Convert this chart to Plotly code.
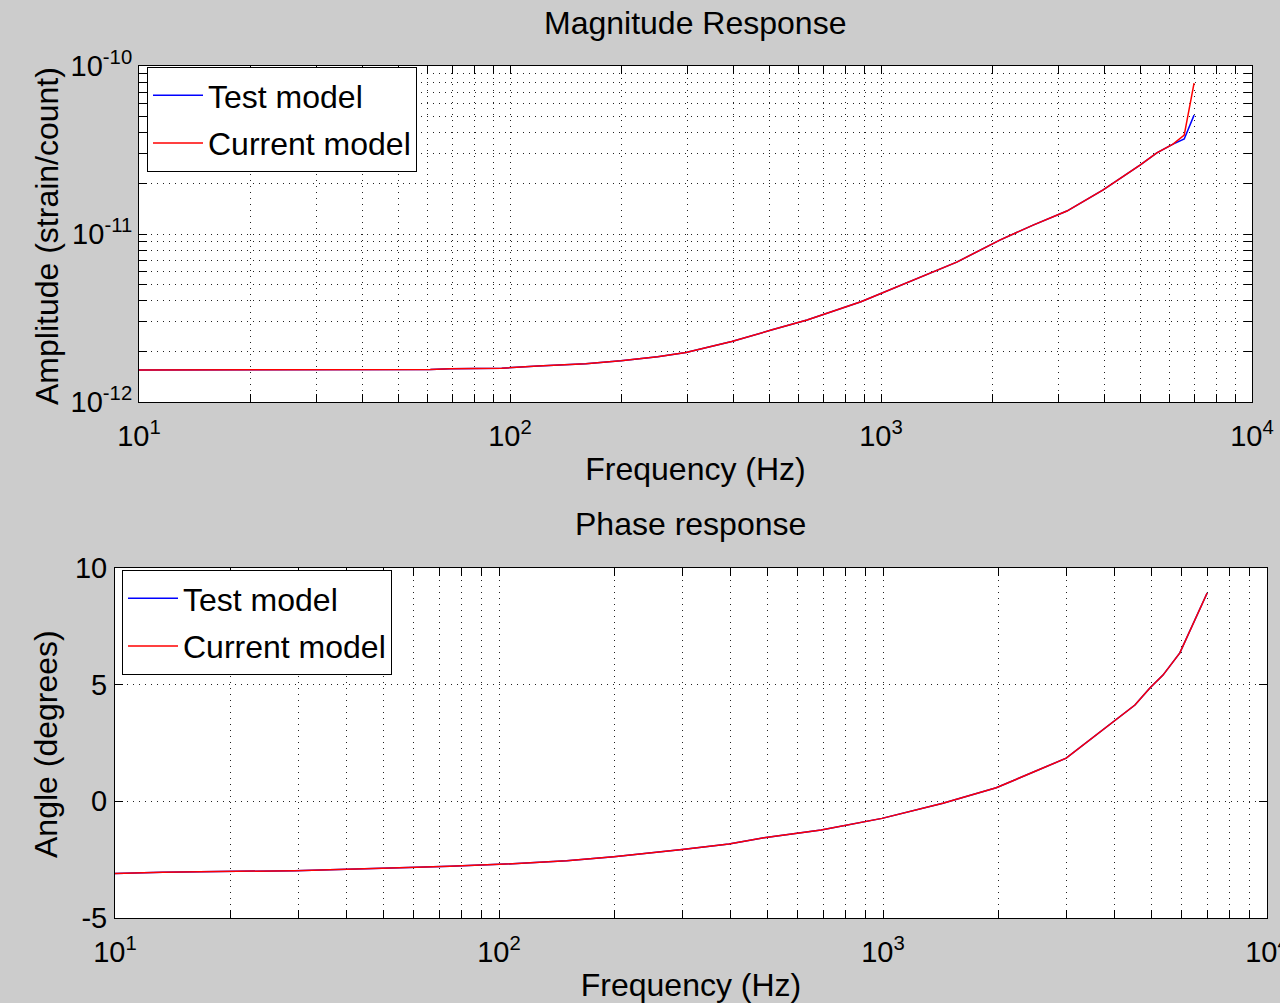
import plotly.graph_objects as go

# ---------------- data ----------------
mag_freq = [10, 20, 40, 61, 69, 95, 119, 160, 199, 250, 298, 396, 506, 632, 883,
            1228, 1600, 2090, 2570, 3170, 3970, 4990, 5540, 6124, 6566, 6980]
mag_current = [1.55e-12, 1.55e-12, 1.55e-12, 1.56e-12, 1.58e-12, 1.59e-12, 1.64e-12,
               1.69e-12, 1.76e-12, 1.86e-12, 1.97e-12, 2.29e-12, 2.68e-12, 3.08e-12,
               3.95e-12, 5.33e-12, 6.8e-12, 9.2e-12, 1.13e-11, 1.37e-11, 1.83e-11,
               2.57e-11, 3.04e-11, 3.43e-11, 3.88e-11, 7.9e-11]
mag_test = [1.55e-12, 1.55e-12, 1.55e-12, 1.56e-12, 1.58e-12, 1.59e-12, 1.64e-12,
            1.69e-12, 1.76e-12, 1.86e-12, 1.97e-12, 2.29e-12, 2.68e-12, 3.08e-12,
            3.95e-12, 5.33e-12, 6.8e-12, 9.2e-12, 1.13e-11, 1.37e-11, 1.83e-11,
            2.57e-11, 3.04e-11, 3.43e-11, 3.68e-11, 5.1e-11]

ph_freq = [10, 13.3, 29.4, 44, 58, 74.5, 91, 104, 150, 199, 300, 397, 490, 690, 994,
           1432, 1972, 2143, 2500, 3000, 3460, 3975, 4530, 4955, 5360, 5930, 6410, 6985]
ph_current = [-3.09, -3.04, -2.97, -2.91, -2.84, -2.78, -2.73, -2.69, -2.55, -2.37,
              -2.06, -1.83, -1.56, -1.23, -0.73, -0.08, 0.58, 0.84, 1.3, 1.85, 2.63,
              3.4, 4.13, 4.86, 5.41, 6.36, 7.56, 8.93]
ph_test = list(ph_current)

series_names = ["Test model", "Current model"]
x_major = [10, 100, 1000, 10000]
x_major_text = ["10<sup>1</sup>", "10<sup>2</sup>", "10<sup>3</sup>", "10<sup>4</sup>"]
y_mag_major = [1e-12, 1e-11, 1e-10]
y_mag_text = ["10<sup>-12</sup>", "10<sup>-11</sup>", "10<sup>-10</sup>"]
y_ph_major = [-5, 0, 5, 10]
y_ph_text = ["-5", "0", "5", "10"]

# ---------------- style ----------------
W, H = 1280, 1003
FONT = "Liberation Sans, Arial, Helvetica, sans-serif"
FS = 32
TFS = 29
BG = "#cccccc"
GRIDC = "#222222"
DASH = "1px,5px"

x_minor = [m * 10.0 ** e for e in (1, 2, 3) for m in range(2, 10)]
y_minor = [m * 10.0 ** e for e in (-12, -11) for m in range(2, 10)]

def px_x(p):
    return p / W

def px_y(p):
    return 1 - p / H

fig = go.Figure()

fig.add_trace(go.Scatter(x=mag_freq, y=mag_test, mode="lines", name=series_names[0],
                         line=dict(color="#0000ff", width=1.5), xaxis="x", yaxis="y",
                         legend="legend", legendgroup="a"))
fig.add_trace(go.Scatter(x=mag_freq, y=mag_current, mode="lines", name=series_names[1],
                         line=dict(color="#ff0000", width=1.5), xaxis="x", yaxis="y",
                         legend="legend", legendgroup="b"))
fig.add_trace(go.Scatter(x=ph_freq, y=ph_test, mode="lines", name=series_names[0],
                         line=dict(color="#0000ff", width=1.5), xaxis="x2", yaxis="y2",
                         legend="legend2", legendgroup="c"))
fig.add_trace(go.Scatter(x=ph_freq, y=ph_current, mode="lines", name=series_names[1],
                         line=dict(color="#ff0000", width=1.5), xaxis="x2", yaxis="y2",
                         legend="legend2", legendgroup="d"))

axis_common = dict(
    showline=True, linecolor="black", linewidth=1, mirror="allticks",
    ticks="inside", ticklen=8, tickcolor="black", tickwidth=1,
    showgrid=True, gridcolor=GRIDC, griddash=DASH, gridwidth=1,
    zeroline=False, automargin=False, ticklabeloverflow="allow",
    tickfont=dict(family=FONT, size=TFS, color="black"),
)
minor_common = dict(ticks="inside", ticklen=8, tickcolor="black",
                    showgrid=True, gridcolor=GRIDC, griddash=DASH)
legend_common = dict(xanchor="left", yanchor="top", bgcolor="white",
                     bordercolor="black", borderwidth=1, tracegroupgap=3,
                     itemwidth=50,
                     font=dict(family=FONT, size=FS, color="black"))
title_font = dict(family=FONT, size=FS, color="black")

fig.update_layout(
    width=W, height=H, autosize=False,
    margin=dict(l=0, r=0, t=0, b=0, pad=0),
    paper_bgcolor=BG, plot_bgcolor="white",
    font=dict(family=FONT, size=FS, color="black"),
    xaxis=dict(axis_common, type="log", domain=[px_x(139), px_x(1252)],
               range=[1, 4], anchor="y", tickvals=x_major, ticktext=x_major_text,
               minor=dict(minor_common, tickvals=x_minor),
               title=dict(text="Frequency (Hz)", font=title_font, standoff=6),
               ticklabelstandoff=8),
    yaxis=dict(axis_common, type="log", domain=[px_y(402), px_y(66)],
               range=[-12, -10], anchor="x", tickvals=y_mag_major, ticktext=y_mag_text,
               minor=dict(minor_common, tickvals=y_minor),
               ticklabelstandoff=0),
    xaxis2=dict(axis_common, type="log", domain=[px_x(115), px_x(1267)],
                range=[1, 4], anchor="y2", tickvals=x_major, ticktext=x_major_text,
                minor=dict(minor_common, tickvals=x_minor),
                title=dict(text="Frequency (Hz)", font=title_font, standoff=6),
                ticklabelstandoff=8),
    yaxis2=dict(axis_common, domain=[px_y(918), px_y(568)],
                range=[-5, 10], anchor="x2", tickvals=y_ph_major, ticktext=y_ph_text,
                ticklabelstandoff=1),
    legend=dict(legend_common, x=px_x(147), y=px_y(67)),
    legend2=dict(legend_common, x=px_x(122), y=px_y(570)),
    showlegend=True,
    annotations=[
        dict(text="Magnitude Response", x=px_x(695), y=px_y(23), xref="paper", yref="paper",
             showarrow=False, xanchor="center", yanchor="middle", font=title_font),
        dict(text="Phase response", x=px_x(690), y=px_y(524), xref="paper", yref="paper",
             showarrow=False, xanchor="center", yanchor="middle", font=title_font),
        dict(text="Amplitude (strain/count)", x=px_x(47), y=px_y(236), xref="paper",
             yref="paper", showarrow=False, textangle=-90, xanchor="center",
             yanchor="middle", font=title_font),
        dict(text="Angle (degrees)", x=px_x(46), y=px_y(744), xref="paper",
             yref="paper", showarrow=False, textangle=-90, xanchor="center",
             yanchor="middle", font=title_font),
    ],
)

fig.write_html(
    "out.html",
    config={"displayModeBar": False},
    post_script="document.body.style.margin='0px';document.body.style.overflow='hidden';"
                "document.documentElement.style.background='#cccccc';",
)
